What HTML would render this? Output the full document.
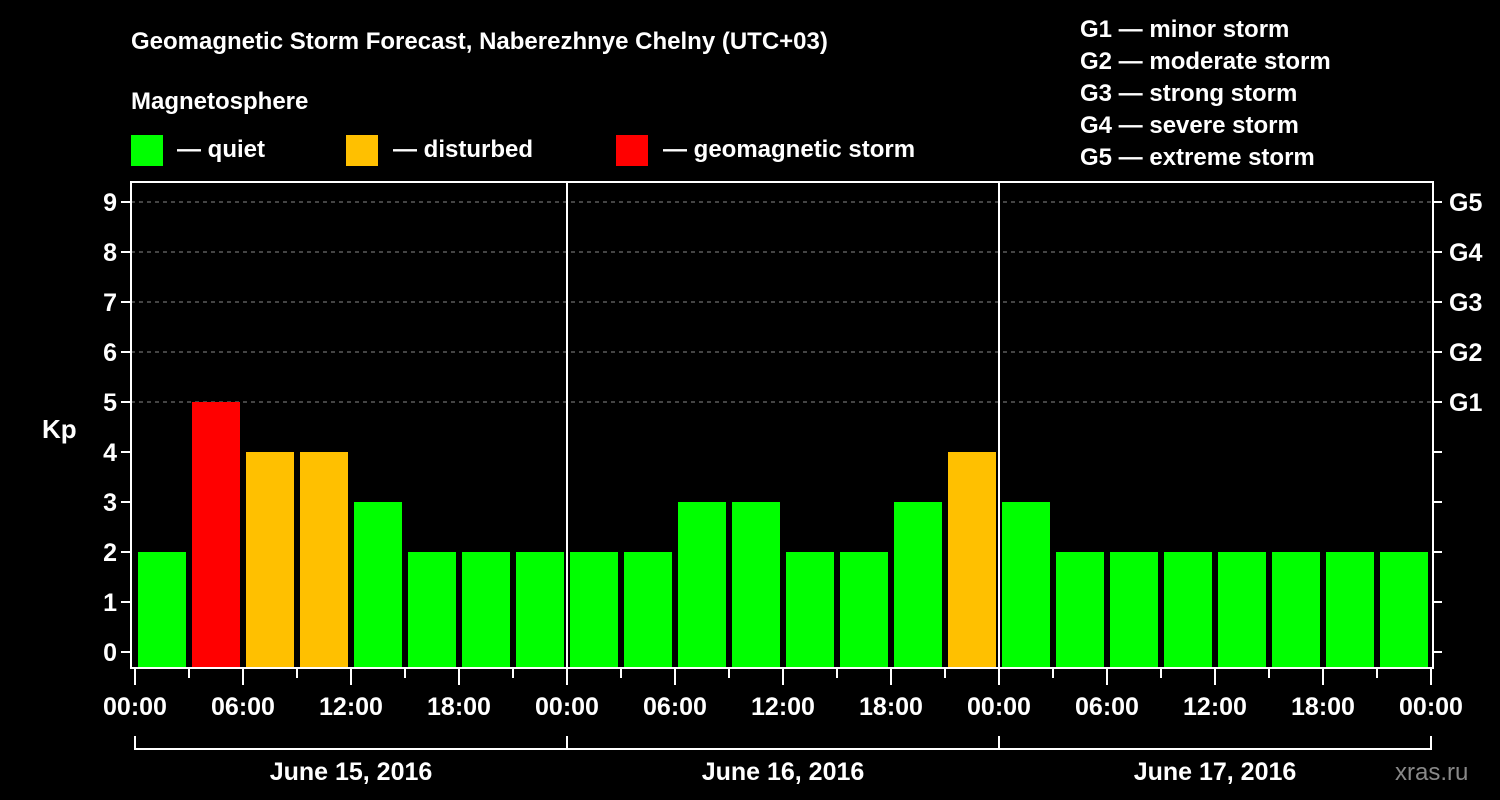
<!DOCTYPE html>
<html><head><meta charset="utf-8"><style>
body{margin:0;background:#000;}
svg{display:block;font-family:"Liberation Sans",sans-serif;font-weight:bold;}
</style></head><body>
<svg id="c" width="1500" height="800">
<rect width="1500" height="800" fill="#000"/>
<g fill="#fff" font-size="24">
<text x="131" y="49">Geomagnetic Storm Forecast, Naberezhnye Chelny (UTC+03)</text>
<text x="131" y="109">Magnetosphere</text>
<text x="1080" y="37">G1 — minor storm</text>
<text x="1080" y="69">G2 — moderate storm</text>
<text x="1080" y="101">G3 — strong storm</text>
<text x="1080" y="133">G4 — severe storm</text>
<text x="1080" y="165">G5 — extreme storm</text>
</g>
<g font-size="24" fill="#fff">
<rect x="131" y="135" width="32" height="31" fill="#00ff00"/>
<text x="177" y="157">— quiet</text>
<rect x="346" y="135" width="32" height="31" fill="#ffc000"/>
<text x="393" y="157">— disturbed</text>
<rect x="616" y="135" width="32" height="31" fill="#ff0000"/>
<text x="663" y="157">— geomagnetic storm</text>
</g>
<text x="42" y="438" fill="#fff" font-size="26">Kp</text>
<text x="1395" y="780" fill="#888" font-size="24" font-weight="normal">xras.ru</text>
<g id="plot"></g>
</svg>
<script>
const kpValues=[2,5,4,4,3,2,2,2, 2,2,3,3,2,2,3,4, 3,2,2,2,2,2,2,2];
const yTicks=[0,1,2,3,4,5,6,7,8,9];
const gLabels=["G1","G2","G3","G4","G5"];
const gLevels=[5,6,7,8,9];
const dayLabels=["June 15, 2016","June 16, 2016","June 17, 2016"];
const hourLabels=["00:00","06:00","12:00","18:00"];
const NS="http://www.w3.org/2000/svg";
const g=document.getElementById('plot');
const X0=135,PXH=18,Y0=652,PXU=50,L=131,R=1433,T=182,B=668;
const xs=h=>X0+h*PXH, ys=v=>Y0-v*PXU;
function mk(t,a,txt){const e=document.createElementNS(NS,t);for(const k in a)e.setAttribute(k,a[k]);if(txt!==undefined)e.textContent=txt;g.appendChild(e);return e;}
yTicks.forEach(v=>{
 if(v>=5){const l=mk('line',{x1:L,x2:R,y1:ys(v),y2:ys(v),stroke:'#888','stroke-dasharray':'4,4','stroke-width':1});
 
 }
 const t=mk('line',{x1:L-10,x2:L,y1:ys(v),y2:ys(v),stroke:'#fff','stroke-width':2});
 
 
 const t2=mk('line',{x1:R,x2:R+9,y1:ys(v),y2:ys(v),stroke:'#fff','stroke-width':2});
 
 
 const lb=mk('text',{x:L-14,y:ys(v)+9,'text-anchor':'end',fill:'#fff','font-size':'25'},String(v));
 
 
});
gLabels.forEach((s,i)=>{
 const lb=mk('text',{x:1449,y:ys(gLevels[i])+9,fill:'#fff','font-size':'25'},s);
 
 
});
kpValues.forEach((v,i)=>{
 const c=v>=5?'#ff0000':(v>=4?'#ffc000':'#00ff00');
 const r=mk('rect',{x:xs(i*3)+3,y:ys(v),width:3*PXH-6,height:B-ys(v),fill:c});
 
 
});
mk('rect',{x:L,y:T,width:R-L,height:B-T,fill:'none',stroke:'#fff','stroke-width':2});
for(let d=1;d<3;d++){const l=mk('line',{x1:xs(d*24),x2:xs(d*24),y1:T,y2:B,stroke:'#fff','stroke-width':2});
 
 }
for(let h=0;h<=72;h+=3){
 const major=h%6===0;
 const l=mk('line',{x1:xs(h),x2:xs(h),y1:B,y2:B+(major?17:10),stroke:'#fff','stroke-width':2});
 
 
 if(major){const t=mk('text',{x:xs(h),y:715,'text-anchor':'middle',fill:'#fff','font-size':'25'},hourLabels[(h/6)%4]);
 
 }
}
mk('line',{x1:xs(0),x2:xs(72),y1:749,y2:749,stroke:'#fff','stroke-width':2});
for(let d=0;d<=3;d++){const l=mk('line',{x1:xs(d*24),x2:xs(d*24),y1:736,y2:750,stroke:'#fff','stroke-width':2});
 
 }
dayLabels.forEach((s,d)=>{const t=mk('text',{x:xs(d*24+12),y:780,'text-anchor':'middle',fill:'#fff','font-size':'25'},s);
 
 });
</script>
</body></html>
